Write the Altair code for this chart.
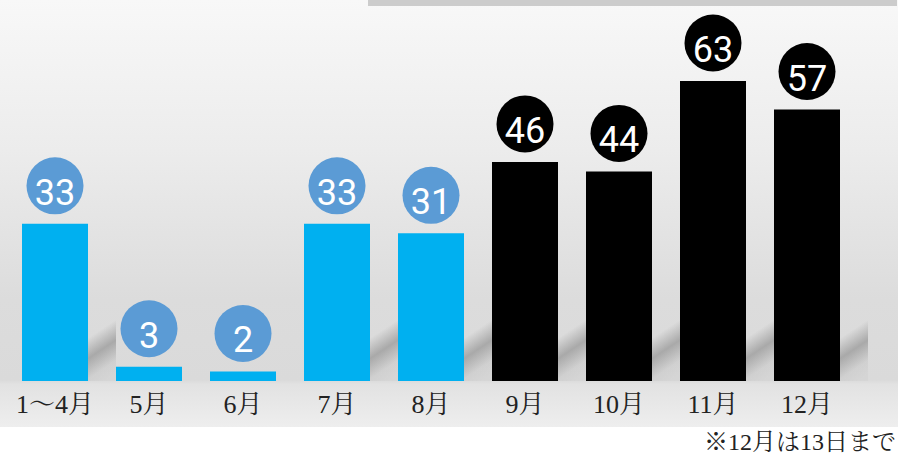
import altair as alt
import pandas as pd

months = ["1～4月", "5月", "6月", "7月", "8月", "9月", "10月", "11月", "12月"]
values = [33, 3, 2, 33, 31, 46, 44, 63, 57]
phase = ["前", "前", "前", "前", "前", "後", "後", "後", "後"]
footnote = "※12月は13日まで"

df = pd.DataFrame({"m": months, "v": values, "p": phase})

xs = alt.Scale(domain=months, range=[8, 854], paddingInner=0.298, paddingOuter=0.149)
ys = alt.Scale(domain=[0, 80], range=[381, 0])
bar_col = alt.Scale(domain=["前", "後"], range=["#00b0f0", "#000000"])
circ_col = alt.Scale(domain=["前", "後"], range=["#5b9bd5", "#000000"])

X = alt.X("m:N", scale=xs, axis=None, sort=months)
Y = alt.Y("v:Q", scale=ys, axis=None)

one = alt.Data(values=[{"a": 1}])

bg = alt.Chart(one).mark_rect(
    color=alt.LinearGradient(
        gradient="linear",
        stops=[
            alt.GradientStop(color="#f8f8f8", offset=0),
            alt.GradientStop(color="#ececec", offset=0.35),
            alt.GradientStop(color="#dcdcdc", offset=0.7),
            alt.GradientStop(color="#dadada", offset=0.89),
            alt.GradientStop(color="#e2e2e2", offset=0.9),
            alt.GradientStop(color="#eeeeee", offset=1),
        ],
        x1=0, x2=0, y1=0, y2=1,
    )
).encode(x=alt.value(0), x2=alt.value(898), y=alt.value(0), y2=alt.value(427))

topbar = alt.Chart(one).mark_rect(color="#cccccc").encode(
    x=alt.value(368), x2=alt.value(897), y=alt.value(0), y2=alt.value(6)
)

shadow = alt.Chart(df).transform_filter("datum.v > 10").mark_bar(
    width=28, xOffset=47,
    color=alt.LinearGradient(
        gradient="linear",
        stops=[
            alt.GradientStop(color="rgba(120,120,120,0)", offset=0),
            alt.GradientStop(color="rgba(120,120,120,0)", offset=0.36),
            alt.GradientStop(color="rgba(120,120,120,0.5)", offset=0.6),
            alt.GradientStop(color="rgba(120,120,120,0.1)", offset=0.84),
            alt.GradientStop(color="rgba(120,120,120,0.05)", offset=1),
        ],
        x1=0.4, y1=0, x2=0.63, y2=1,
    ),
).encode(x=X, y=alt.value(300), y2=alt.value(381))

bars = alt.Chart(df).mark_bar(width=66).encode(
    x=X, y=Y, color=alt.Color("p:N", scale=bar_col, legend=None)
)

circles = alt.Chart(df).mark_circle(size=3250, opacity=1, yOffset=-38).encode(
    x=X, y=Y, color=alt.Color("p:N", scale=circ_col, legend=None)
)

nums = alt.Chart(df).mark_text(
    font="Roboto", fontSize=36, fontWeight="normal", color="white",
    baseline="alphabetic", dy=-19
).encode(x=X, y=Y, text="v:Q")

labels = alt.Chart(df).mark_text(
    font="Liberation Serif, Noto Serif CJK JP, Noto Sans CJK JP", fontSize=26,
    color="#222222", baseline="alphabetic"
).encode(x=X, y=alt.value(413), text="m:N")

note = alt.Chart(alt.Data(values=[{"t": footnote}])).mark_text(
    font="Liberation Serif, Noto Serif CJK JP, Noto Sans CJK JP", fontSize=24,
    color="#222222", align="right", baseline="bottom"
).encode(x=alt.value(896), y=alt.value(455), text="t:N")

chart = alt.layer(bg, topbar, shadow, bars, circles, nums, labels, note).resolve_scale(
    color="independent"
).properties(
    width=911, height=455, padding=0, autosize="none", background="white"
).configure_view(stroke=None)

chart.save("out.html", embed_options={"renderer": "svg", "actions": False})
